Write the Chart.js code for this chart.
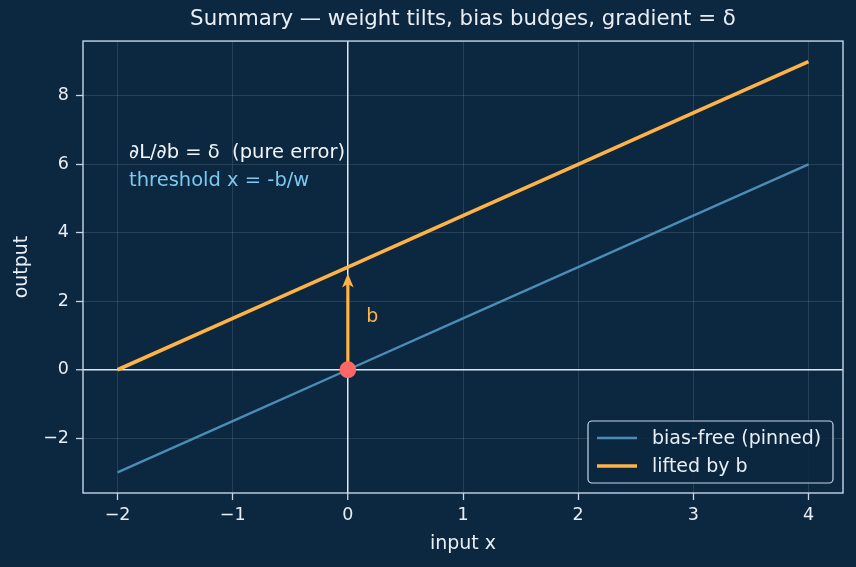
<!DOCTYPE html>
<html>
<head>
<meta charset="utf-8">
<script src="https://cdn.jsdelivr.net/npm/chart.js@4"></script>
<style>
  html, body { margin: 0; padding: 0; background: #0c2740; }
  #wrap { width: 856px; height: 567px; }
</style>
</head>
<body>
<div id="wrap"><canvas id="chart" width="856" height="567"></canvas></div>
<script>
// --- DATA ---
const inputX = [-2, -1, 0, 1, 2, 3, 4];
const biasFree = [-3, -1.5, 0, 1.5, 3, 4.5, 6];
const liftedByB = [0, 1.5, 3, 4.5, 6, 7.5, 9];
const pinnedPoint = [{ x: 0, y: 0 }];
const arrowFrom = [0, 0];
const arrowTo = [0, 3];
const xTicks = [-2, -1, 0, 1, 2, 3, 4];
const yTicks = [-2, 0, 2, 4, 6, 8];
const notes = [
    { text: '\u2202L/\u2202b = \u03b4  (pure error)', x: -1.9, y: 6.33, color: '#f2f5f8' },
    { text: 'threshold x = -b/w', x: -1.9, y: 5.5, color: '#7cc8f0' }
];
const arrowLabel = { text: 'b', x: 0.16, y: 1.55 };

// --- STYLE ---
const BG = '#0c2740';
const FG = '#e8eef4';
const SPINE = '#c6d6e6';
const BLUE = '#4b8db5';
const ORANGE = '#ffb347';
const RED = '#fc6666';
const FONT = '"DejaVu Sans", sans-serif';

const toPts = (xs, ys) => xs.map((x, i) => ({ x, y: ys[i] }));
const minus = v => String(v).replace('-', '\u2212');

const bgPlugin = {
    id: 'bg',
    beforeDraw(chart) {
        const { ctx } = chart;
        ctx.save();
        ctx.fillStyle = BG;
        ctx.fillRect(0, 0, chart.width, chart.height);
        ctx.restore();
    }
};

const extrasPlugin = {
    id: 'extras',
    beforeDatasetsDraw(chart) {
        const { ctx, scales: { x, y } } = chart;
        // bias arrow, tip stops just short of the lifted line
        const x0 = x.getPixelForValue(arrowFrom[0]), y0 = y.getPixelForValue(arrowFrom[1]);
        const x1 = x.getPixelForValue(arrowTo[0]), y1 = y.getPixelForValue(arrowTo[1]) + 6.5;
        ctx.save();
        ctx.strokeStyle = ORANGE;
        ctx.fillStyle = ORANGE;
        ctx.lineWidth = 3.2;
        ctx.beginPath();
        ctx.moveTo(x0, y0);
        ctx.lineTo(x1, y1 + 10);
        ctx.stroke();
        ctx.beginPath();
        ctx.moveTo(x1, y1);
        ctx.lineTo(x1 - 5.8, y1 + 14);
        ctx.lineTo(x1, y1 + 10.5);
        ctx.lineTo(x1 + 5.8, y1 + 14);
        ctx.closePath();
        ctx.fill();
        ctx.font = '19px ' + FONT;
        ctx.textBaseline = 'middle';
        ctx.textAlign = 'left';
        ctx.fillText(arrowLabel.text, x.getPixelForValue(arrowLabel.x), y.getPixelForValue(arrowLabel.y));
        // notes
        ctx.font = '19.5px ' + FONT;
        notes.forEach(n => {
            ctx.fillStyle = n.color;
            ctx.fillText(n.text, x.getPixelForValue(n.x), y.getPixelForValue(n.y));
        });
        ctx.restore();
    },
    afterDraw(chart) {
        const { ctx, chartArea: a } = chart;
        ctx.save();
        // spines
        ctx.strokeStyle = SPINE;
        ctx.lineWidth = 1.4;
        ctx.strokeRect(a.left, a.top, a.right - a.left, a.bottom - a.top);
        // legend
        const lx = 588, ly = 421, lw = 245, lh = 62;
        ctx.fillStyle = 'rgba(12,39,64,0.85)';
        ctx.beginPath();
        ctx.roundRect(lx, ly, lw, lh, 4);
        ctx.fill();
        ctx.strokeStyle = SPINE;
        ctx.lineWidth = 1.2;
        ctx.stroke();
        ctx.font = '19px ' + FONT;
        ctx.textBaseline = 'middle';
        ctx.textAlign = 'left';
        chart.data.datasets.slice(0, 2).forEach((ds, i) => {
            const yy = ly + 17 + i * 28;
            ctx.strokeStyle = ds.borderColor;
            ctx.lineWidth = ds.borderWidth;
            ctx.beginPath();
            ctx.moveTo(lx + 9, yy);
            ctx.lineTo(lx + 49, yy);
            ctx.stroke();
            ctx.fillStyle = FG;
            ctx.fillText(ds.label, lx + 64, yy + 1);
        });
        ctx.restore();
    }
};

const gridColor = c => (c.tick && c.tick.value === 0) ? '#dfe9f3' : 'rgba(255,255,255,0.15)';
const gridWidth = c => (c.tick && c.tick.value === 0) ? 1.5 : 0.8;

new Chart(document.getElementById('chart'), {
    type: 'scatter',
    data: {
        datasets: [
            {
                label: 'bias-free (pinned)',
                data: toPts(inputX, biasFree),
                showLine: true,
                borderColor: BLUE,
                borderWidth: 2.4,
                pointRadius: 0,
                order: 2
            },
            {
                label: 'lifted by b',
                data: toPts(inputX, liftedByB),
                showLine: true,
                borderColor: ORANGE,
                borderWidth: 3.6,
                pointRadius: 0,
                order: 1
            },
            {
                label: 'pinned',
                data: pinnedPoint,
                pointRadius: 8.4,
                pointBackgroundColor: RED,
                pointBorderColor: RED,
                pointBorderWidth: 0,
                order: 0
            }
        ]
    },
    options: {
        responsive: false,
        animation: false,
        layout: { padding: { left: 0, right: 13, top: 0, bottom: 0 } },
        plugins: {
            legend: { display: false },
            tooltip: { enabled: false },
            title: {
                display: true,
                fullSize: false,
                text: 'Summary \u2014 weight tilts, bias budges, gradient = \u03b4',
                color: FG,
                font: { family: FONT, size: 21.3, weight: 'normal' },
                padding: { top: 7, bottom: 8.5 }
            }
        },
        scales: {
            x: {
                type: 'linear',
                min: -2.3,
                max: 4.3,
                afterBuildTicks: s => { s.ticks = xTicks.map(v => ({ value: v })); },
                afterFit: s => { s.height = 74; },
                ticks: {
                    color: FG,
                    font: { family: FONT, size: 17.5 },
                    padding: 4.5,
                    maxRotation: 0,
                    callback: minus
                },
                grid: { color: gridColor, lineWidth: gridWidth, tickColor: SPINE, tickLength: 7, tickWidth: 1.3 },
                border: { display: false },
                title: {
                    display: true,
                    text: 'input x',
                    color: FG,
                    font: { family: FONT, size: 19 },
                    padding: { top: 0, bottom: 12 }
                }
            },
            y: {
                type: 'linear',
                min: -3.6,
                max: 9.6,
                afterBuildTicks: s => { s.ticks = yTicks.map(v => ({ value: v })); },
                afterFit: s => { s.width = 83; },
                ticks: {
                    color: FG,
                    font: { family: FONT, size: 17.5 },
                    padding: 7,
                    callback: minus
                },
                grid: { color: gridColor, lineWidth: gridWidth, tickColor: SPINE, tickLength: 7, tickWidth: 1.3 },
                border: { display: false },
                title: {
                    display: true,
                    text: 'output',
                    color: FG,
                    font: { family: FONT, size: 19 },
                    padding: { top: 10.6, bottom: 0 }
                }
            }
        }
    },
    plugins: [bgPlugin, extrasPlugin]
});
</script>
</body>
</html>
